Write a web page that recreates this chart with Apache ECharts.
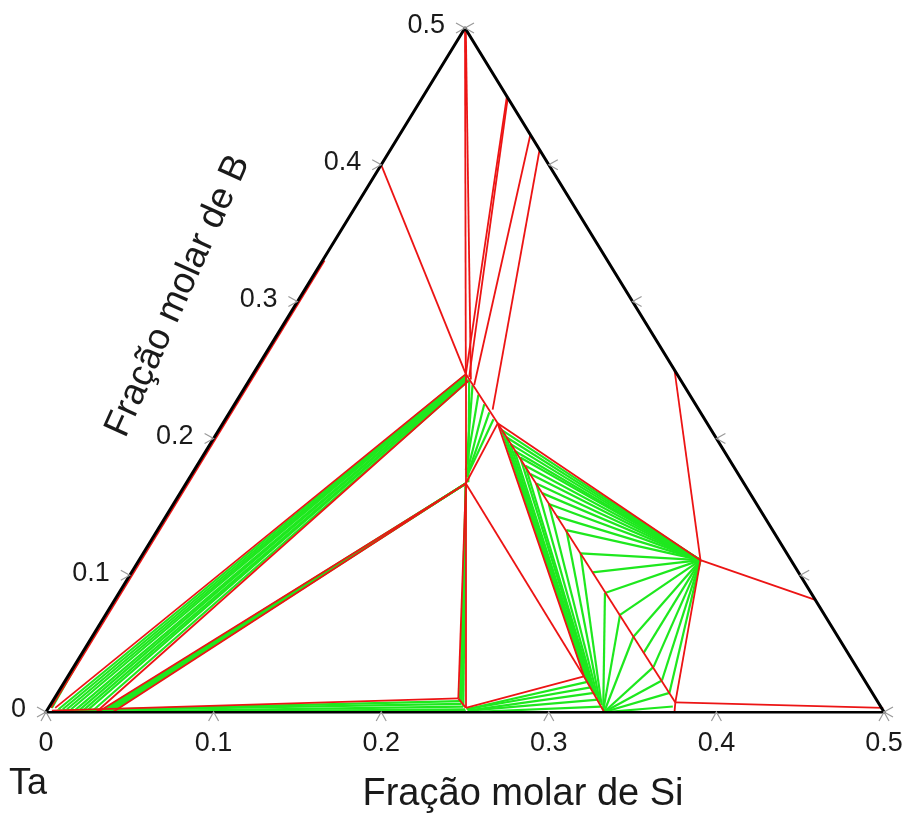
<!DOCTYPE html>
<html>
<head>
<meta charset="utf-8">
<script src="https://cdn.jsdelivr.net/npm/echarts@6/dist/echarts.min.js"></script>
<style>
  html, body { margin: 0; padding: 0; background: #ffffff; }
  #chart { width: 907px; height: 816px; }
</style>
</head>
<body>
<div id="chart"></div>
<script>
// Ta–Si–B isothermal section, Ta-rich corner. All points are [x(Si), x(B)] mole fractions.
const tickValues = [0, 0.1, 0.2, 0.3, 0.4, 0.5];
const tickLabels = ['0', '0.1', '0.2', '0.3', '0.4', '0.5'];
const titleSi = 'Fração molar de Si';
const titleB = 'Fração molar de B';
const cornerName = 'Ta';

// Section frame: Ta corner, Si = 0.5 on Ta–Si side, B = 0.5 on Ta–B side
const frameCorners = [[0, 0], [0.5, 0], [0, 0.5]];

// Phase boundaries (red)
const boundaryLines = [
  [[0.000, 0.500], [0.127, 0.247]],
  [[0.001, 0.499], [0.132, 0.243]],
  [[0.050, 0.450], [0.127, 0.247]],
  [[0.051, 0.449], [0.130, 0.245]],
  [[0.078, 0.422], [0.136, 0.239]],
  [[0.089, 0.411], [0.156, 0.221]],
  [[0.000, 0.400], [0.127, 0.247]],
  [[0.127, 0.247], [0.164, 0.211]],
  [[0.127, 0.247], [0.167, 0.167]],
  [[0.164, 0.211], [0.167, 0.167]],
  [[0.164, 0.211], [0.335, 0.111]],
  [[0.164, 0.211], [0.372, 0.007]],
  [[0.164, 0.211], [0.308, 0.026]],
  [[0.167, 0.167], [0.308, 0.026]],
  [[0.308, 0.026], [0.333, 0.000]],
  [[0.308, 0.026], [0.249, 0.003]],
  [[0.167, 0.167], [0.241, 0.010]],
  [[0.167, 0.167], [0.249, 0.003]],
  [[0.241, 0.010], [0.249, 0.003]],
  [[0.241, 0.010], [0.003, 0.001]],
  [[0.335, 0.111], [0.250, 0.250]],
  [[0.335, 0.111], [0.418, 0.082]],
  [[0.335, 0.111], [0.372, 0.007]],
  [[0.372, 0.007], [0.498, 0.003]],
  [[0.372, 0.007], [0.375, 0.000]],
  [[0.004, 0.003], [0.127, 0.247]],
  [[0.030, 0.000], [0.131, 0.242]],
  [[0.031, 0.000], [0.167, 0.167]],
  [[0.040, 0.000], [0.167, 0.167]],
  [[0.0015, 0.003], [0.0012, 0.330]]
];

// Tie lines (green): Ta + T2 band
const tiesUpperBand = [
  [[0.0065, 0.002], [0.127, 0.246]],
  [[0.009, 0.002], [0.128, 0.246]],
  [[0.0115, 0.002], [0.128, 0.245]],
  [[0.014, 0.002], [0.128, 0.245]],
  [[0.0165, 0.001], [0.129, 0.244]],
  [[0.019, 0.001], [0.129, 0.244]],
  [[0.0215, 0.001], [0.130, 0.243]],
  [[0.024, 0.001], [0.130, 0.243]],
  [[0.027, 0.000], [0.131, 0.242]]
];
// Ta + Ta2(Si,B) band
const tiesLowerBand = [
  [[0.0325, 0.000], [0.167, 0.167]],
  [[0.034, 0.000], [0.167, 0.167]],
  [[0.0355, 0.000], [0.167, 0.167]],
  [[0.037, 0.000], [0.167, 0.167]],
  [[0.0385, 0.000], [0.167, 0.167]]
];
// Ta + Ta2B along the Ta–B side
const tiesTaB = [
  [[0.001, 0.004], [0.0006, 0.060]],
  [[0.002, 0.003], [0.0008, 0.040]]
];
// Ta + Ta3Si strip along the Ta–Si side
const tiesBottomStrip = [
  [[0.006, 0.001], [0.243, 0.008]],
  [[0.010, 0.001], [0.245, 0.006]],
  [[0.015, 0.000], [0.247, 0.004]],
  [[0.040, 0.000], [0.249, 0.002]],
  [[0.080, 0.000], [0.250, 0.001]],
  [[0.167, 0.167], [0.243, 0.008]],
  [[0.167, 0.167], [0.245, 0.006]],
  [[0.167, 0.167], [0.247, 0.004]]
];
// T2 + Ta2(Si,B)
const tiesT2Triangle = [
  [[0.165, 0.172], [0.160, 0.214]],
  [[0.165, 0.172], [0.155, 0.219]],
  [[0.164, 0.174], [0.149, 0.225]],
  [[0.162, 0.177], [0.142, 0.232]],
  [[0.160, 0.182], [0.135, 0.239]],
  [[0.168, 0.168], [0.131, 0.243]]
];
// Fan from the Si-rich vertex onto the Ta5(Si,B)3 line
const fanVertex = [0.335, 0.111];
const fanEnds = [
  [0.169, 0.206], [0.174, 0.201], [0.179, 0.196], [0.184, 0.191], [0.190, 0.186],
  [0.196, 0.180], [0.202, 0.174], [0.209, 0.167], [0.216, 0.160], [0.224, 0.152],
  [0.233, 0.143], [0.244, 0.133], [0.261, 0.116], [0.275, 0.102], [0.290, 0.087],
  [0.307, 0.071], [0.323, 0.055], [0.335, 0.043], [0.346, 0.033], [0.356, 0.023],
  [0.365, 0.014]
];
// Ta2Si + Ta5(Si,B)3
const tiesTa2Si = [
  [[0.310, 0.024], [0.169, 0.206]],
  [[0.312, 0.022], [0.174, 0.201]],
  [[0.314, 0.020], [0.179, 0.196]],
  [[0.316, 0.018], [0.184, 0.191]],
  [[0.318, 0.016], [0.190, 0.186]],
  [[0.320, 0.014], [0.196, 0.180]],
  [[0.322, 0.012], [0.209, 0.167]],
  [[0.325, 0.009], [0.224, 0.152]],
  [[0.327, 0.007], [0.244, 0.133]],
  [[0.329, 0.005], [0.261, 0.116]],
  [[0.331, 0.003], [0.290, 0.087]],
  [[0.332, 0.001], [0.307, 0.071]],
  [[0.333, 0.000], [0.323, 0.055]],
  [[0.333, 0.000], [0.346, 0.033]],
  [[0.333, 0.000], [0.356, 0.023]],
  [[0.333, 0.000], [0.365, 0.014]],
  [[0.334, 0.000], [0.372, 0.004]]
];
// Ta3Si + Ta2Si(B)
const tiesTa3Si = [
  [[0.250, 0.002], [0.312, 0.022]],
  [[0.250, 0.002], [0.316, 0.018]],
  [[0.251, 0.001], [0.320, 0.014]],
  [[0.252, 0.001], [0.325, 0.009]],
  [[0.253, 0.000], [0.329, 0.004]],
  [[0.256, 0.000], [0.333, 0.000]]
];

// Ternary (Si, B) -> plane (Si + B/2, B)
function proj(p) { return [p[0] + p[1] / 2, p[1]]; }
function segData(segs) { return segs.map(s => ({ coords: s.map(proj) })); }

const fanSegs = fanEnds.map(e => [fanVertex, e]);
const greenSegs = [].concat(tiesUpperBand, tiesLowerBand, tiesTaB, tiesBottomStrip, tiesT2Triangle,
  fanSegs, tiesTa2Si, tiesTa3Si);
const frameSegs = [
  [frameCorners[0], frameCorners[1]],
  [frameCorners[1], frameCorners[2]],
  [frameCorners[2], frameCorners[0]]
];

const FONT = 'Liberation Sans, Arial, sans-serif';
const TEXT = '#1a1a1a';
const chart = echarts.init(document.getElementById('chart'), null, { renderer: 'canvas' });

chart.setOption({
  backgroundColor: '#ffffff',
  animation: false,
  grid: { left: 46, right: 23, top: 28, bottom: 104 },
  xAxis: {
    type: 'value', min: 0, max: 0.5, interval: 0.1,
    axisLine: { show: false }, axisTick: { show: false }, splitLine: { show: false },
    axisLabel: {
      margin: 18, fontSize: 27, color: TEXT, fontFamily: FONT,
      formatter: v => tickLabels[tickValues.findIndex(t => Math.abs(t - v) < 1e-9)]
    }
  },
  yAxis: { type: 'value', min: 0, max: 0.5, show: false },
  series: [
    {
      type: 'lines', coordinateSystem: 'cartesian2d', silent: true, z: 2,
      lineStyle: { color: '#1ee81e', width: 2.2, opacity: 1 },
      data: segData(greenSegs)
    },
    {
      type: 'lines', coordinateSystem: 'cartesian2d', silent: true, z: 3,
      lineStyle: { color: '#ec1414', width: 1.8, opacity: 1 },
      data: segData(boundaryLines)
    },
    {
      type: 'lines', coordinateSystem: 'cartesian2d', silent: true, z: 4,
      lineStyle: { color: '#000000', width: 3, opacity: 1, cap: 'round' },
      data: segData(frameSegs)
    },
    {
      // small grey ticks on the three sides
      type: 'custom', coordinateSystem: 'cartesian2d', silent: true, z: 5,
      data: tickValues.map(v => [v]),
      renderItem: function (params, api) {
        const v = api.value(0);
        const b = api.coord(proj([v, 0]));
        const l = api.coord(proj([0, v]));
        const r = api.coord(proj([0.5 - v, v]));
        const st = { stroke: '#9a9a9a', lineWidth: 1.2, fill: null };
        return {
          type: 'group',
          children: [
            { type: 'polyline', shape: { points: [[b[0] - 5, b[1] + 9], [b[0], b[1]], [b[0] + 5, b[1] + 9]] }, style: st },
            { type: 'polyline', shape: { points: [[l[0] - 9, l[1] - 5], [l[0], l[1]], [l[0] - 9, l[1] + 5]] }, style: st },
            { type: 'polyline', shape: { points: [[r[0] + 9, r[1] - 5], [r[0], r[1]], [r[0] + 9, r[1] + 5]] }, style: st }
          ]
        };
      }
    },
    {
      // B-fraction labels along the Ta–B side
      type: 'custom', coordinateSystem: 'cartesian2d', silent: true, z: 5,
      data: tickValues.map((v, i) => [v, i]),
      renderItem: function (params, api) {
        const v = api.value(0);
        const p = api.coord(proj([0, v]));
        return {
          type: 'text',
          style: {
            x: p[0] - 20, y: p[1] - 2, text: tickLabels[api.value(1)],
            align: 'right', verticalAlign: 'middle',
            fontSize: 27, fontFamily: FONT, fill: TEXT
          }
        };
      }
    }
  ],
  graphic: [
    { type: 'text', left: 9, top: 766, style: { text: cornerName, fontSize: 36, fontFamily: FONT, fill: TEXT } },
    { type: 'text', x: 523, y: 795, style: { text: titleSi, fontSize: 38, fontFamily: FONT, fill: TEXT, align: 'center', verticalAlign: 'middle' } },
    { type: 'text', x: 178, y: 296, rotation: 1.15, style: { text: titleB, fontSize: 37, fontFamily: FONT, fill: TEXT, align: 'center', verticalAlign: 'middle' } }
  ]
});
</script>
</body>
</html>
